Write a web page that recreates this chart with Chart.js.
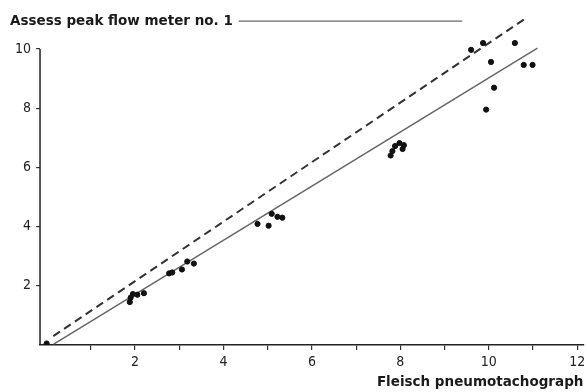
<!DOCTYPE html>
<html>
<head>
<meta charset="utf-8">
<script src="https://cdn.jsdelivr.net/npm/chart.js@4"></script>
<style>
  html, body { margin: 0; padding: 0; background: #fff; }
  #box { width: 587px; height: 392px; }
</style>
</head>
<body>
<div id="box"><canvas id="grafico"></canvas></div>
<script>
// dati (l/s)
var puntiX = [0, 1.88, 1.9, 1.95, 2.05, 2.2, 2.77, 2.84, 3.06, 3.18, 3.33,
              4.77, 5.02, 5.09, 5.22, 5.33, 7.78, 7.82, 7.88, 7.98, 8.05, 8.08,
              9.6, 9.87, 10.59, 10.05, 10.79, 10.99, 10.12, 9.94];
var puntiY = [0.05, 1.45, 1.6, 1.72, 1.7, 1.75, 2.42, 2.45, 2.55, 2.82, 2.75,
              4.09, 4.03, 4.43, 4.33, 4.3, 6.4, 6.55, 6.72, 6.82, 6.62, 6.75,
              9.97, 10.2, 10.2, 9.56, 9.46, 9.46, 8.69, 7.95];

// linea di identita (tratteggiata) e retta di regressione (continua)
var identitaX = [0.15, 10.85];
var identitaY = [0.3, 11.05];
var rettaX = [0.16, 11.1];
var rettaY = [0.03, 10.03];

// tacche degli assi
var tickX = [1, 2, 3, 4, 5, 6, 7, 8, 9, 10, 11, 12];
var tickY = [2, 4, 6, 8, 10];

var titolo = 'Assess peak flow meter no. 1';
var titoloX = 'Fleisch pneumotachograph';

function coppie(xs, ys) {
    var out = [];
    for (var i = 0; i < xs.length; i++) {
        out.push({ x: xs[i], y: ys[i] });
    }
    return out;
}

var fontTick = { family: "'Liberation Sans Narrow', 'DejaVu Sans Condensed', sans-serif", size: 14 };
var fontBold = { family: "'DejaVu Sans', sans-serif", size: 13.5, weight: 'bold' };

// asse y disegnato solo fino a 10, e linea dopo il titolo
var assiExtra = {
    id: 'assiExtra',
    afterDraw: function(chart) {
        var ctx = chart.ctx;
        var sx = chart.scales.x;
        var sy = chart.scales.y;
        ctx.save();
        ctx.strokeStyle = '#222';
        ctx.lineWidth = 1.5;
        ctx.beginPath();
        ctx.moveTo(sx.left, sy.getPixelForValue(0));
        ctx.lineTo(sx.left, sy.getPixelForValue(tickY[tickY.length - 1]));
        ctx.stroke();

        // tratto accanto al titolo
        var t = chart.titleBlock;
        ctx.font = 'bold 13.5px "DejaVu Sans", sans-serif';
        var w = ctx.measureText(titolo).width;
        var yt = t.top + 10 + 8;
        ctx.strokeStyle = '#666';
        ctx.lineWidth = 1.2;
        ctx.beginPath();
        ctx.moveTo(t.left + w + 6, yt);
        ctx.lineTo(sx.getPixelForValue(9.4), yt);
        ctx.stroke();
        ctx.restore();
    }
};

var ctx = document.getElementById('grafico').getContext('2d');

var grafico = new Chart(ctx, {
    type: 'scatter',
    data: {
        datasets: [
            {
                label: 'punti',
                data: coppie(puntiX, puntiY),
                backgroundColor: '#111',
                borderColor: '#111',
                pointRadius: 2.6,
                pointHoverRadius: 2.6
            },
            {
                label: 'identita',
                type: 'line',
                data: coppie(identitaX, identitaY),
                borderColor: '#333',
                borderWidth: 2,
                borderDash: [8, 5],
                pointRadius: 0,
                fill: false
            },
            {
                label: 'regressione',
                type: 'line',
                data: coppie(rettaX, rettaY),
                borderColor: '#666',
                borderWidth: 1.5,
                pointRadius: 0,
                fill: false
            }
        ]
    },
    options: {
        responsive: true,
        maintainAspectRatio: false,
        animation: false,
        layout: { padding: { left: 10, right: 0, top: 0, bottom: 0 } },
        plugins: {
            legend: { display: false },
            tooltip: { enabled: false },
            title: {
                display: true,
                text: titolo,
                align: 'start',
                color: '#1a1a1a',
                font: fontBold,
                padding: { top: 10, bottom: -16 }
            }
        },
        scales: {
            x: {
                type: 'linear',
                min: -0.15,
                max: 12.14,
                afterBuildTicks: function(axis) {
                    axis.ticks = tickX.map(function(v) { return { value: v }; });
                },
                // l'asse arriva fino al bordo destro
                afterFit: function(axis) {
                    axis.paddingRight = 0;
                },
                ticks: {
                    autoSkip: false,
                    maxRotation: 0,
                    padding: 4,
                    color: '#222',
                    font: fontTick,
                    callback: function(v) { return v % 2 === 0 ? String(v) : ''; }
                },
                grid: {
                    display: true,
                    drawOnChartArea: false,
                    drawTicks: true,
                    tickLength: 5,
                    tickColor: '#333',
                    lineWidth: 1.2
                },
                border: { display: true, color: '#222', width: 1.5 },
                title: {
                    display: true,
                    text: titoloX,
                    align: 'end',
                    color: '#1a1a1a',
                    font: fontBold,
                    padding: { top: 0, bottom: 1 }
                }
            },
            y: {
                type: 'linear',
                min: 0,
                max: 11.2,
                afterBuildTicks: function(axis) {
                    axis.ticks = tickY.map(function(v) { return { value: v }; });
                },
                ticks: {
                    autoSkip: false,
                    padding: 5,
                    color: '#222',
                    font: fontTick
                },
                grid: {
                    display: true,
                    drawOnChartArea: false,
                    drawTicks: true,
                    tickLength: 4,
                    tickColor: '#333',
                    lineWidth: 1.2
                },
                border: { display: false }
            }
        }
    },
    plugins: [assiExtra]
});
</script>
</body>
</html>
